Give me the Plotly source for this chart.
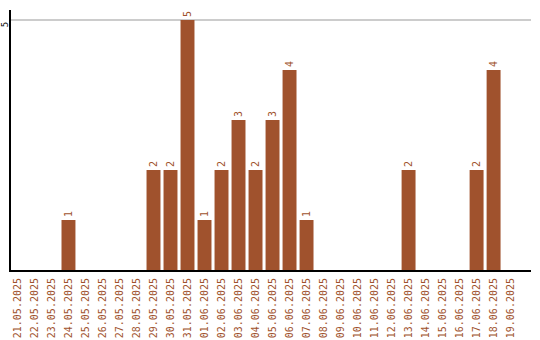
import plotly.graph_objects as go

dates = ["21.05.2025","22.05.2025","23.05.2025","24.05.2025","25.05.2025","26.05.2025",
         "27.05.2025","28.05.2025","29.05.2025","30.05.2025","31.05.2025","01.06.2025",
         "02.06.2025","03.06.2025","04.06.2025","05.06.2025","06.06.2025","07.06.2025",
         "08.06.2025","09.06.2025","10.06.2025","11.06.2025","12.06.2025","13.06.2025",
         "14.06.2025","15.06.2025","16.06.2025","17.06.2025","18.06.2025","19.06.2025"]
counts = [0,0,0,1,0,0,0,0,2,2,5,1,2,3,2,3,4,1,0,0,0,0,0,2,0,0,0,2,4,0]
labels = [str(v) if v else "" for v in counts]

color = "#A0522D"
font = "DejaVu Sans Mono"

fig = go.Figure(go.Bar(
    x=list(range(len(dates))), y=counts, text=labels,
    textposition="outside", textangle=-90, constraintext="none", cliponaxis=False,
    textfont=dict(family=font, size=10, color=color),
    marker=dict(color=color, line=dict(width=0)), width=0.82,
))

fig.update_layout(
    width=540, height=340, margin=dict(l=10.5, r=9, t=10, b=70, autoexpand=False),
    paper_bgcolor="white", plot_bgcolor="white", showlegend=False,
    font=dict(family=font, size=10),
)
fig.update_xaxes(
    range=[-0.38, 30.2], tickmode="array", tickvals=list(range(len(dates))), ticktext=dates,
    tickangle=-90, tickfont=dict(family=font, size=10, color=color), automargin=False,
    showline=True, linecolor="black", linewidth=2, showgrid=False, ticks="", zeroline=False,
    ticklabelstandoff=2,
)
fig.update_yaxes(
    range=[0, 5.2], tickmode="array", tickvals=[5], ticktext=["5"], tickangle=-90,
    tickfont=dict(family=font, size=9, color="black"), automargin=False,
    showline=True, linecolor="black", linewidth=2, showgrid=True, gridcolor="#cccccc",
    gridwidth=1.5, zeroline=False, ticks="", ticklabelstandoff=-3, ticklabelshift=6,
)

fig.write_html("out.html")
